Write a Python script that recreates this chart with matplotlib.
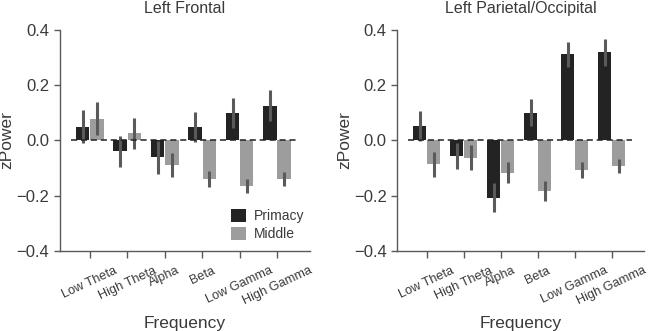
import numpy as np
import matplotlib.pyplot as plt

plt.rcParams['font.family'] = ['Liberation Sans', 'DejaVu Sans']

bands = ['Low Theta', 'High Theta', 'Alpha', 'Beta', 'Low Gamma', 'High Gamma']

# Left Frontal
lf_primacy = [0.050, -0.040, -0.061, 0.048, 0.099, 0.126]
lf_primacy_err = [0.060, 0.057, 0.060, 0.055, 0.055, 0.057]
lf_middle = [0.078, 0.025, -0.089, -0.140, -0.165, -0.140]
lf_middle_err = [0.060, 0.056, 0.044, 0.030, 0.024, 0.024]

# Left Parietal/Occipital
lp_primacy = [0.052, -0.055, -0.207, 0.100, 0.312, 0.318]
lp_primacy_err = [0.054, 0.047, 0.052, 0.049, 0.045, 0.050]
lp_middle = [-0.086, -0.063, -0.117, -0.183, -0.107, -0.093]
lp_middle_err = [0.045, 0.045, 0.038, 0.037, 0.028, 0.024]

titles = ['Left Frontal', 'Left Parietal/Occipital']

dark = '#232323'
light = '#9d9d9d'
err_col = '#5a5a5a'
text_col = '#3a3a3a'
spine_col = '#5a5a5a'

fig = plt.figure(figsize=(6.5, 3.31), dpi=100)
ax1 = fig.add_axes([0.092, 0.242, 0.385, 0.668])
ax2 = fig.add_axes([0.611, 0.242, 0.380, 0.668])

panels = [
    (ax1, lf_primacy, lf_primacy_err, lf_middle, lf_middle_err),
    (ax2, lp_primacy, lp_primacy_err, lp_middle, lp_middle_err),
]

x = np.arange(len(bands))
w = 0.36
for i, (ax, p, pe, m, me) in enumerate(panels):
    ax.bar(x - w / 2 - 0.01, p, w, color=dark, label='Primacy', zorder=2)
    ax.bar(x + w / 2 + 0.01, m, w, color=light, label='Middle', zorder=2)
    ax.errorbar(x - w / 2 - 0.01, p, yerr=pe, fmt='none', ecolor=err_col,
                elinewidth=2.2, capsize=0, zorder=3)
    ax.errorbar(x + w / 2 + 0.01, m, yerr=me, fmt='none', ecolor=err_col,
                elinewidth=2.2, capsize=0, zorder=3)
    ax.plot([-0.5, 5.55], [0, 0], color='#222222', ls=(0, (4, 2.5)), lw=1.1, zorder=4)

    ax.set_xlim(-0.8, 5.88)
    ax.set_ylim(-0.4, 0.4)
    ax.set_yticks([-0.4, -0.2, 0.0, 0.2, 0.4])
    ax.set_yticklabels(['\u22120.4', '\u22120.2', '0.0', '0.2', '0.4'])
    ax.set_xticks(x)
    ax.set_xticklabels(bands, rotation=25, ha='center')
    ax.tick_params(axis='y', labelsize=12, colors=spine_col, labelcolor=text_col,
                   length=4, width=1)
    ax.tick_params(axis='x', labelsize=9.2, colors=spine_col, labelcolor=text_col,
                   length=5, width=1, pad=5)
    for s in ['top', 'right']:
        ax.spines[s].set_visible(False)
    for s in ['left', 'bottom']:
        ax.spines[s].set_color(spine_col)
        ax.spines[s].set_linewidth(1)
    ax.set_title(titles[i], fontsize=11.5, color=text_col, pad=12)
    ax.set_ylabel('zPower', fontsize=12.5, color=text_col, labelpad=1.5)
    ax.set_xlabel('Frequency', fontsize=12.5, color=text_col, labelpad=6)

ax1.legend(loc='lower right', frameon=False, fontsize=10, handlelength=1.1,
           handleheight=1.1, handletextpad=0.5, labelspacing=0.25, borderpad=0.3,
           bbox_to_anchor=(1.02, -0.005), labelcolor=text_col)

fig.savefig('out.png', dpi=100)
